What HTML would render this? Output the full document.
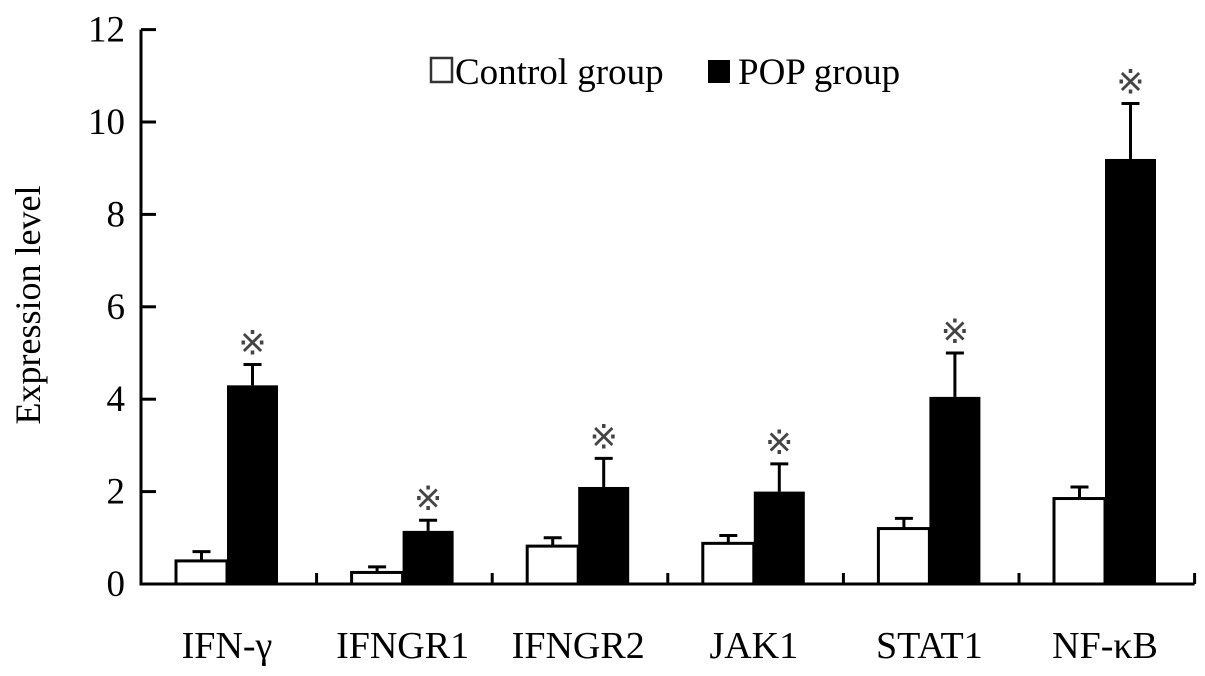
<!DOCTYPE html>
<html><head><meta charset="utf-8"><style>
body{margin:0;background:#fff;}
svg{display:block;}
text{font-family:"Liberation Serif","Times New Roman",serif;}
</style></head><body>
<svg id="chart" width="1205" height="676" viewBox="0 0 1205 676" xmlns="http://www.w3.org/2000/svg" font-family="Liberation Serif, serif">
<g id="axes"></g>
<g id="bars"></g>
<text transform="translate(40,305) rotate(-90)" text-anchor="middle" font-size="36" font-family="Liberation Serif, serif">Expression level</text>
<g>
<rect x="431" y="58" width="21" height="24" fill="#fff" stroke="#333" stroke-width="2.5"/>
<text x="455" y="84" font-size="37" font-family="Liberation Serif, serif">Control group</text>
<rect x="708" y="60" width="22" height="23" fill="#000"/>
<text x="738" y="84" font-size="37" font-family="Liberation Serif, serif">POP group</text>
</g>
</svg>
<script>
const categories=["IFN-γ","IFNGR1","IFNGR2","JAK1","STAT1","NF-κB"];
const controlValues=[0.5,0.25,0.82,0.88,1.2,1.85];
const controlErrors=[0.2,0.12,0.18,0.17,0.22,0.25];
const popValues=[4.3,1.15,2.1,2.0,4.05,9.2];
const popErrors=[0.45,0.23,0.62,0.6,0.95,1.2];
const yTicks=[0,2,4,6,8,10,12];
const NS="http://www.w3.org/2000/svg";
const X0=141,GW=175.6,Y0=584,PU=46.2;
const FF="Liberation Serif, serif";
function y(v){return Y0-v*PU;}
function gx(i){return X0+i*GW;}
function mk(t,a,p){const e=document.createElementNS(NS,t);for(const k in a)e.setAttribute(k,a[k]);p.appendChild(e);return e;}
const ax=document.getElementById('axes'),bg=document.getElementById('bars');
let e=mk('line',{x1:X0,y1:y(12),x2:X0,y2:Y0+1.5,stroke:'#000','stroke-width':3},ax);


e=mk('line',{x1:X0-1.5,y1:Y0,x2:gx(6),y2:Y0,stroke:'#000','stroke-width':3},ax);


yTicks.forEach(t=>{
  let l=mk('line',{x1:X0,y1:y(t),x2:X0+15,y2:y(t),stroke:'#000','stroke-width':3},ax);
  
  
  let tx=mk('text',{x:125,y:y(t)+12,'text-anchor':'end','font-size':37,'font-family':FF},ax);
  tx.textContent=t;
  
  
});
for(let i=1;i<=categories.length;i++){
  let l=mk('line',{x1:gx(i),y1:Y0,x2:gx(i),y2:Y0-11,stroke:'#000','stroke-width':3},ax);
  
  
}
function err(x,v,e,p){
  let l=mk('line',{x1:x,y1:y(v),x2:x,y2:y(v+e),stroke:'#000','stroke-width':3},p);
  
  
  let c=mk('line',{x1:x-9,y1:y(v+e),x2:x+9,y2:y(v+e),stroke:'#000','stroke-width':3},p);
  
  
}
categories.forEach((c,i)=>{
  const cx=gx(i)+35,px=cx+51;
  let r=mk('rect',{x:cx,y:y(controlValues[i]),width:51,height:controlValues[i]*PU,fill:'#fff',stroke:'#000','stroke-width':3},bg);
  
  
  err(cx+25.5,controlValues[i],controlErrors[i],bg);
  r=mk('rect',{x:px,y:y(popValues[i]),width:51,height:popValues[i]*PU,fill:'#000'},bg);
  
  
  err(px+25.5,popValues[i],popErrors[i],bg);
  let s=mk('text',{x:px+25.5,y:y(popValues[i]+popErrors[i])-10,'text-anchor':'middle','font-size':34,fill:'#444','font-family':FF},bg);
  s.textContent='※';
  
  
  let t=mk('text',{x:cx+51,y:658,'text-anchor':'middle','font-size':38,'font-family':FF},ax);
  t.textContent=c;
  
  
});
</script>
</body></html>
